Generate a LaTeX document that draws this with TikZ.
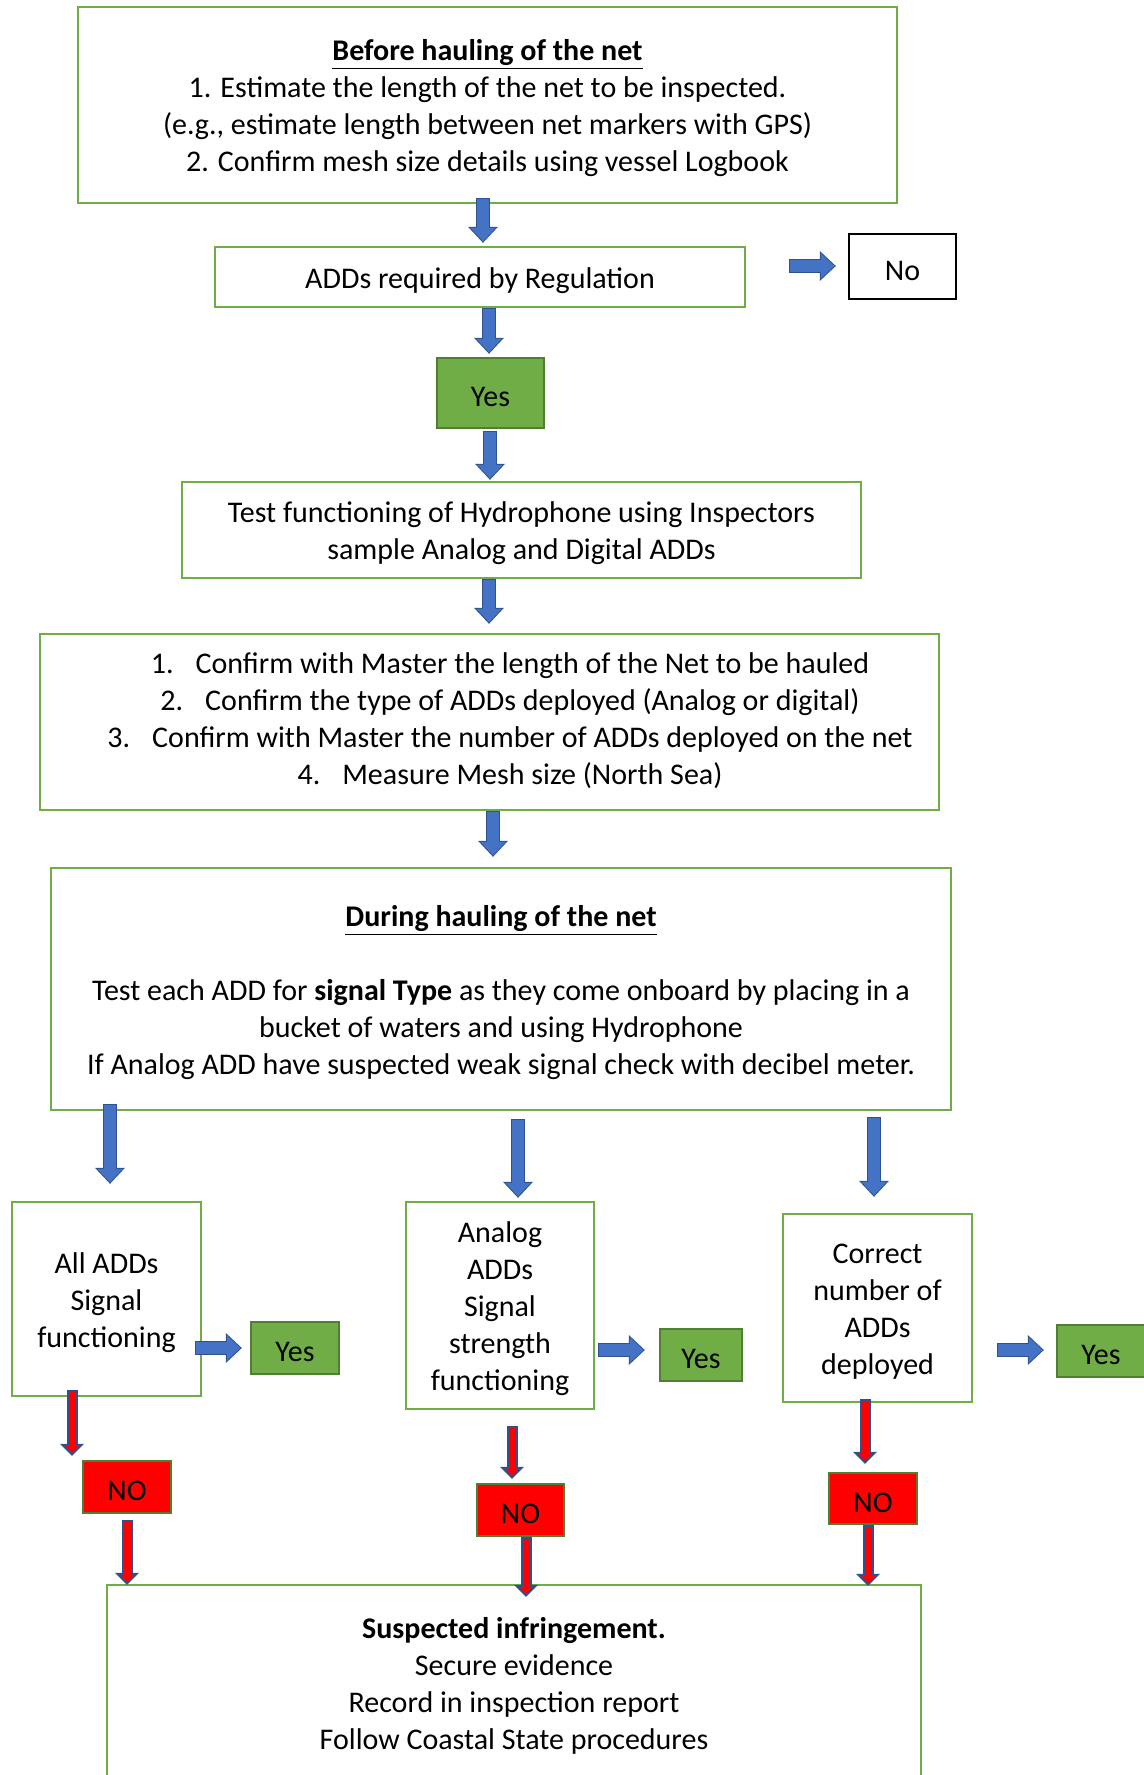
\documentclass[tikz,border=0pt]{standalone}
\usepackage{fontspec}
\setmainfont{Carlito}
\usepackage{tikz}
\usetikzlibrary{arrows.meta,calc}
\definecolor{boxgreen}{HTML}{70AD47}
\definecolor{yesfill}{HTML}{70AD47}
\definecolor{yesedge}{HTML}{507E32}
\definecolor{arrfill}{HTML}{4472C4}
\definecolor{arredge}{HTML}{2F528F}
\definecolor{nofill}{HTML}{FF0000}
\newcommand{\toplift}{\rule{0pt}{\dimexpr\fontcharht\font`l+3.4pt\relax}}

\begin{document}
\begin{tikzpicture}[x=0.5pt,y=-0.5pt,
    box/.style={draw=boxgreen,line width=1.2pt,align=center,inner sep=0pt,
        font=\fontsize{15}{18.5}\selectfont},
    yesbox/.style={draw=yesedge,fill=yesfill,line width=1.2pt,inner sep=0pt,
        minimum width=44pt,minimum height=26pt,font=\fontsize{15}{18.5}\selectfont},
    nored/.style={yesbox,fill=nofill},
    barrow/.style={draw=arrfill,line width=6pt,shorten <=0.5pt,shorten >=0.73pt,
        -{Triangle[width=12.7pt,length=6.77pt,line width=0pt]},
        preaction={draw=arredge,line width=7pt,shorten <=0pt,shorten >=0pt,
        -{Triangle[width=15pt,length=8pt,line width=0pt]}}},
    rarrow/.style={draw=nofill,line width=3.5pt,shorten <=1pt,shorten >=1.41pt,
        -{Triangle[width=7.2pt,length=3.6pt,line width=0pt]},
        preaction={draw=arredge,line width=5.5pt,shorten <=0pt,shorten >=0pt,
        -{Triangle[width=12pt,length=6pt,line width=0pt]}}}]
    \useasboundingbox (0,0) rectangle (1144,1775);
    \clip (0,0) rectangle (1144,1775);

    % Before hauling
    \node[box,minimum width=409.5pt,minimum height=98pt] (before) at (487.5,105)
        {\toplift\underline{\textbf{Before hauling of the net}}\\
         1. Estimate the length of the net to be inspected.\\
         (e.g., estimate length between net markers with GPS)\\
         2. Confirm mesh size details using vessel Logbook};
    \node[box,minimum width=265pt,minimum height=30pt] (regul) at (480,277)
        {\toplift ADDs required by Regulation};
    \node[box,draw=black,minimum width=53.5pt,minimum height=32.5pt] (nonode) at (902.5,266.5) {\toplift No};
    \node[yesbox,minimum width=53.5pt,minimum height=35pt] (yesreg) at (490.5,393) {\toplift Yes};
    \node[box,minimum width=339.5pt,minimum height=48pt] (hydro) at (521.5,530)
        {\toplift Test functioning of Hydrophone using Inspectors\\ sample Analog and Digital ADDs};
    \node[box,minimum width=449.5pt,minimum height=88pt] (confirm) at (489.5,722) {};
    \node[box,draw=none] (confirmtext) at (510,717.5)
        {\toplift 1.\hspace{11pt}Confirm with Master the length of the Net to be hauled\\
         2.\hspace{11pt}Confirm the type of ADDs deployed (Analog or digital)\\
         3.\hspace{11pt}Confirm with Master the number of ADDs deployed on the net\\
         4.\hspace{11pt}Measure Mesh size (North Sea)};

    % During hauling
    \node[box,minimum width=450pt,minimum height=121pt] (during) at (501,989)
        {\toplift\underline{\textbf{During hauling of the net}}\\[18.5pt]
         Test each ADD for \textbf{signal Type} as they come onboard by placing in a\\
         bucket of waters and using Hydrophone\\
         If Analog ADD have suspected weak signal check with decibel meter.};

    % Three checks
    \node[box,minimum width=94.5pt,minimum height=97pt] (alladd) at (106.5,1299)
        {\toplift All ADDs\\ Signal\\ functioning};
    \node[box,minimum width=94pt,minimum height=103.5pt] (analog) at (500,1305.5)
        {\toplift Analog\\ ADDs\\ Signal\\ strength\\ functioning};
    \node[box,minimum width=94.5pt,minimum height=94pt] (correct) at (877.5,1308)
        {\toplift Correct\\ number of\\ ADDs\\ deployed};
    \node[yesbox] (yesl) at (295,1348) {\toplift Yes};
    \node[yesbox,minimum width=41pt] (yesm) at (701,1355) {\toplift Yes};
    \node[yesbox] (yesr) at (1101,1351) {\toplift Yes};
    \node[nored] (noa) at (127,1487) {\toplift NO};
    \node[nored,minimum width=43.5pt] (nob) at (520.5,1510) {\toplift NO};
    \node[nored,minimum height=25.5pt] (noc) at (873,1498.5) {\toplift NO};

    % Infringement
    \node[box,minimum width=407pt,minimum height=97.5pt] (suspect) at (514,1682.5)
        {\toplift\textbf{Suspected infringement.}\\ Secure evidence\\
         Record in inspection report\\ Follow Coastal State procedures};

    % Blue arrows
    \draw[barrow] ($(before.south)+(-4.5,-6)$) -- ($(regul.north)+(3,-3)$);
    \draw[barrow] ($(regul.south)+(9,0)$) -- ($(yesreg.north)+(-1.5,-3)$);
    \draw[barrow] ($(regul.east)+(43,-11)$) -- ($(nonode.west)+(-12,-0.5)$);
    \draw[barrow] ($(yesreg.south)+(-0.5,2)$) -- ($(hydro.north)+(-31.5,-1)$);
    \draw[barrow] ($(hydro.south)+(-32.5,0)$) -- ($(confirm.north)+(-0.5,-9)$);
    \draw[barrow] ($(confirm.south)+(3.5,0)$) -- ($(during.north)+(-8,-10)$);
    \draw[barrow] ($(during.south)+(-391,-7)$) -- ($(alladd.north)+(3.5,-17)$);
    \draw[barrow] ($(during.south)+(17,8)$) -- ($(analog.north)+(18,-3)$);
    \draw[barrow] ($(during.south)+(373,6)$) -- ($(correct.north)+(-3.5,-16)$);
    \draw[barrow] ($(alladd.east)+(-7,49)$) -- ($(yesl.west)+(-8,0)$);
    \draw[barrow] ($(analog.east)+(3,44.5)$) -- ($(yesm.west)+(-14,-5)$);
    \draw[barrow] ($(correct.east)+(24,42)$) -- ($(yesr.west)+(-12,-1)$);

    % Red arrows
    \draw[rarrow] ($(alladd.south)+(-34.5,-7)$) -- ($(noa.north)+(-55,-4)$);
    \draw[rarrow] ($(noa.south)+(0,6)$) -- ($(suspect.north)+(-387,1)$);
    \draw[rarrow] ($(analog.south)+(12,16)$) -- ($(nob.north)+(-8.5,-4)$);
    \draw[rarrow] ($(nob.south)+(5.5,0)$) -- ($(suspect.north)+(12,13)$);
    \draw[rarrow] ($(correct.south)+(-12.5,-4)$) -- ($(noc.north)+(-8,-8)$);
    \draw[rarrow] ($(noc.south)+(-5,0)$) -- ($(suspect.north)+(354,2)$);
\end{tikzpicture}
\end{document}
